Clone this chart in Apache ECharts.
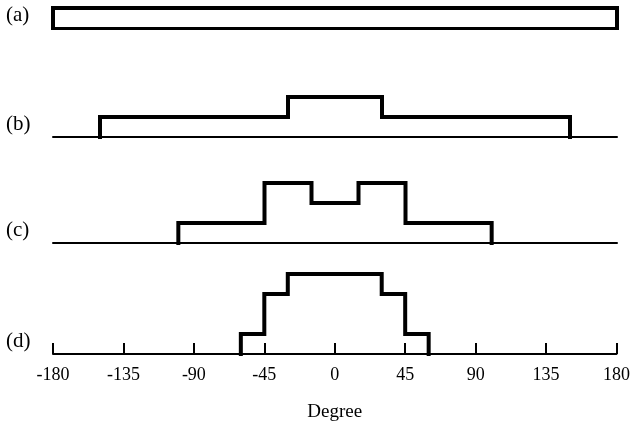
<!DOCTYPE html>
<html>
<head>
<meta charset="utf-8">
<script src="https://cdn.jsdelivr.net/npm/echarts@6/dist/echarts.min.js"></script>
<style>
  html, body { margin: 0; padding: 0; background: #fff; }
  #chart { width: 633px; height: 426px; }
</style>
</head>
<body>
<div id="chart"></div>
<script>
// panel names
const panelNames = ["(a)", "(b)", "(c)", "(d)"];

// step edges (degrees) and levels between them, per panel
const edgesA = [-180, 180];
const levelsA = [1];
const edgesB = [-150, -30, 30, 150];
const levelsB = [1, 2, 1];
const edgesC = [-100, -45, -15, 15, 45, 100];
const levelsC = [1, 3, 2, 3, 1];
const edgesD = [-60, -45, -30, 30, 45, 60];
const levelsD = [1, 3, 4, 3, 1];

// x axis ticks
const tickValues = [-180, -135, -90, -45, 0, 45, 90, 135, 180];
const tickLabels = ["-180", "-135", "-90", "-45", "0", "45", "90", "135", "180"];

const FONT = "Liberation Serif";
const INK = "#000";
const UNIT_PX = 20; // pixels per level unit

// layout of the four strips: top and bottom (baseline) in px
const strips = [
  { top: 0, base: 28 },
  { top: 57, base: 137 },
  { top: 163, base: 243 },
  { top: 274, base: 354 },
];

function stepData(edges, levels) {
  const pts = [[edges[0], 0]];
  for (let i = 0; i < levels.length; i++) pts.push([edges[i], levels[i]]);
  pts.push([edges[edges.length - 1], 0]);
  return pts;
}

const profiles = [
  stepData(edgesA, levelsA),
  stepData(edgesB, levelsB),
  stepData(edgesC, levelsC),
  stepData(edgesD, levelsD),
];

const chart = echarts.init(document.getElementById("chart"));

const grids = [], xAxes = [], yAxes = [], series = [], texts = [];

strips.forEach((s, i) => {
  const h = s.base - s.top;
  const last = i === strips.length - 1;
  grids.push({ left: 53, right: 16, top: s.top, height: h });
  xAxes.push({
    gridIndex: i,
    type: "value",
    min: -180,
    max: 180,
    interval: 45,
    axisLine: { show: true, onZero: false, lineStyle: { color: INK, width: i === 0 ? 3 : 2 } },
    axisTick: { show: last, inside: true, length: 11, lineStyle: { color: INK, width: 2 } },
    axisLabel: {
      show: last,
      margin: 12,
      fontFamily: FONT,
      fontSize: 18,
      color: "#000",
      showMinLabel: true,
      showMaxLabel: true,
      formatter: (v) => tickLabels[tickValues.indexOf(v)] ?? String(v),
    },
    splitLine: { show: false },
    name: last ? "Degree" : "",
    nameLocation: "middle",
    nameGap: 49,
    nameTextStyle: { fontFamily: FONT, fontSize: 19, color: "#000" },
  });
  yAxes.push({
    gridIndex: i,
    type: "value",
    min: 0,
    max: h / UNIT_PX,
    show: false,
  });
  series.push({
    type: "line",
    xAxisIndex: i,
    yAxisIndex: i,
    data: profiles[i],
    step: "end",
    symbol: "none",
    clip: false,
    animation: false,
    lineStyle: { color: INK, width: 4, join: "miter", cap: "square" },
  });
  texts.push({
    type: "text",
    left: 6,
    top: s.base - 23,
    style: { text: panelNames[i], font: "21px " + FONT, fill: "#000" },
  });
});

chart.setOption({
  backgroundColor: "#fff",
  animation: false,
  grid: grids,
  xAxis: xAxes,
  yAxis: yAxes,
  series: series,
  graphic: texts,
});
</script>
</body>
</html>
